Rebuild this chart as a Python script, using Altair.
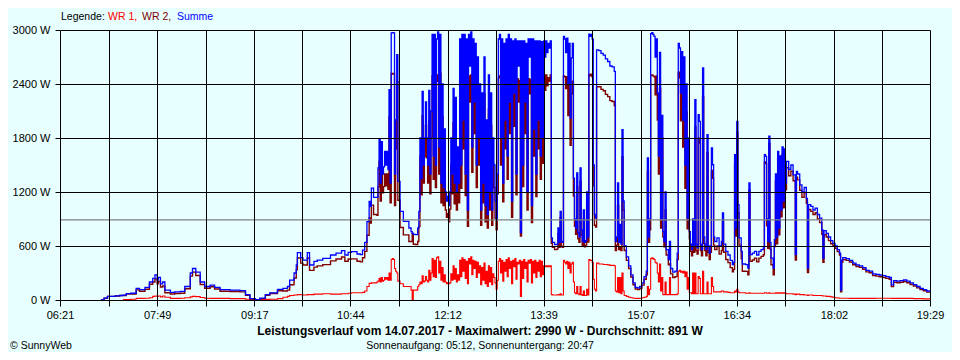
import altair as alt
import pandas as pd

# ---------------- data (minutes since midnight) ----------------
minuten = [
    418, 421, 424, 431, 435, 438, 441, 445, 450, 453,
    458, 462, 465, 467, 469, 470, 472, 474, 476, 481,
    485, 490, 494, 499, 501, 504, 508, 512, 517, 521,
    526, 535, 544, 549, 553, 558, 562, 567, 571, 578,
    583, 587, 589, 593, 595, 596, 599, 601, 605, 607,
    611, 614, 619, 626, 631, 636, 639, 642, 645, 650,
    653, 655, 657, 659, 661, 662, 663, 665, 668, 669,
    670, 671, 672, 673, 674, 675, 676, 677, 678, 679,
    680, 681, 682, 683, 684, 685, 686, 687, 689, 692,
    697, 699, 700, 701, 703, 705, 706, 707, 708, 709,
    710, 711, 712, 713, 714, 715, 716, 717, 718, 719,
    720, 721, 722, 723, 724, 725, 726, 727, 728, 729,
    730, 731, 732, 733, 734, 735, 736, 737, 738, 739,
    740, 741, 742, 743, 744, 745, 746, 747, 748, 749,
    750, 751, 752, 753, 754, 755, 756, 757, 758, 759,
    760, 761, 762, 763, 764, 765, 766, 767, 768, 769,
    770, 771, 772, 773, 774, 775, 776, 777, 778, 779,
    780, 781, 782, 783, 784, 785, 786, 787, 788, 789,
    790, 791, 792, 793, 794, 795, 796, 797, 798, 799,
    800, 801, 802, 803, 804, 805, 806, 807, 808, 809,
    810, 811, 812, 813, 814, 815, 816, 817, 818, 819,
    820, 821, 822, 823, 824, 825, 826, 827, 829, 831,
    832, 833, 834, 835, 836, 837, 838, 839, 840, 841,
    842, 843, 844, 845, 846, 847, 848, 849, 850, 851,
    852, 853, 854, 855, 856, 857, 858, 859, 860, 861,
    862, 863, 864, 865, 866, 867, 869, 871, 873, 875,
    877, 879, 881, 883, 884, 885, 886, 887, 888, 889,
    890, 891, 892, 894, 896, 898, 900, 902, 904, 906,
    908, 910, 912, 913, 914, 915, 916, 917, 918, 919,
    920, 921, 922, 923, 924, 925, 926, 927, 928, 929,
    930, 932, 933, 934, 936, 938, 940, 941, 942, 943,
    944, 945, 946, 947, 948, 949, 950, 951, 952, 953,
    954, 955, 956, 957, 958, 959, 960, 961, 962, 963,
    964, 965, 966, 967, 968, 969, 970, 971, 972, 973,
    974, 976, 978, 980, 981, 982, 984, 986, 988, 990,
    991, 992, 993, 994, 995, 996, 998, 999, 1002, 1004,
    1005, 1006, 1008, 1010, 1012, 1014, 1016, 1018, 1019, 1020,
    1021, 1022, 1023, 1024, 1025, 1027, 1028, 1029, 1030, 1031,
    1032, 1033, 1034, 1035, 1036, 1037, 1038, 1039, 1041, 1043,
    1045, 1047, 1048, 1049, 1051, 1053, 1055, 1057, 1058, 1059,
    1061, 1063, 1065, 1067, 1069, 1071, 1072, 1073, 1075, 1077,
    1079, 1081, 1083, 1085, 1087, 1088, 1089, 1090, 1093, 1096,
    1099, 1102, 1105, 1108, 1111, 1114, 1117, 1120, 1123, 1126,
    1129, 1132, 1134, 1136, 1139, 1142, 1145, 1148, 1151, 1154,
    1157, 1160, 1163, 1166, 1169,
]

wr1 = [
    None, None, None, None, None, 5, 5, 8, 18, 18,
    20, 25, 40, 45, 40, 45, 35, 45, 30, 18,
    18, 20, 25, 35, 40, 38, 28, 20, 18, 18,
    18, 15, 15, 8, 5, 3, 5, 7, 8, 15,
    30, 40, 50, 55, 55, 60, 60, 55, 60, 60,
    65, 65, 70, 65, 65, 70, 70, 75, 80, 80,
    80, 85, 100, 150, 185, 185, 190, 190, 200, 210,
    240, 200, 250, 210, 220, 250, 230, 250, 220, 300,
    220, 450, 460, 450, 350, 320, 300, 210, 180, 150,
    150, 110, 0, 110, 110, 150, 170, 200, 180, 270,
    200, 210, 260, 220, 200, 330, 220, 300, 460, 260,
    440, 250, 470, 480, 300, 430, 220, 360, 200, 280,
    200, 180, 190, 180, 190, 290, 220, 380, 230, 350,
    200, 280, 220, 440, 260, 470, 320, 450, 240, 430,
    180, 460, 400, 480, 280, 440, 350, 430, 250, 420,
    300, 380, 170, 360, 220, 410, 180, 320, 150, 380,
    200, 360, 170, 290, 250, 190, 120, 220, 430, 460,
    300, 440, 210, 420, 320, 450, 260, 470, 350, 430,
    180, 440, 370, 460, 230, 420, 400, 440, 40, 430,
    240, 450, 350, 420, 200, 440, 410, 450, 190, 430,
    300, 440, 250, 420, 320, 440, 260, 430, 280, 380,
    370, 380, 370, 380, 370, 380, 60, 55, 55, 55,
    60, 55, 70, 55, 55, 440, 420, 400, 430, 350,
    420, 300, 400, 420, 200, 80, 70, 150, 70, 60,
    150, 60, 50, 100, 50, 50, 120, 55, 450, 440,
    440, 420, 230, 120, 100, 410, 400, 400, 395, 395,
    390, 385, 385, 380, 100, 90, 250, 80, 250, 70,
    300, 100, 50, 40, 30, 25, 20, 18, 18, 20,
    25, 30, 40, 150, 60, 120, 460, 470, 460, 450,
    420, 410, 300, 200, 400, 100, 250, 60, 60, 200,
    60, 60, 250, 60, 60, 60, 70, 320, 330, 310,
    320, 300, 320, 260, 310, 120, 250, 80, 80, 70,
    300, 70, 300, 70, 70, 260, 240, 70, 70, 320,
    70, 70, 70, 200, 70, 70, 70, 250, 150, 90,
    90, 90, 90, 100, 100, 90, 90, 85, 80, 80,
    80, 100, 90, 120, 90, 80, 80, 80, 75, 75,
    80, 75, 75, 75, 75, 75, 75, 75, 80, 80,
    75, 75, 80, 75, 75, 75, 75, 80, 75, 80,
    75, 80, 75, 80, 75, 80, 75, 70, 70, 70,
    65, 60, 65, 65, 60, 60, 55, 55, 50, 55,
    55, 50, 50, 50, 50, 48, 45, 45, 40, 40,
    35, 30, 25, 22, 20, 20, 20, 20, 20, 18,
    18, 18, 18, 18, 18, 18, 18, 20, 20, 20,
    20, 20, 18, 18, 18, 18, 18, 18, 18, 15,
    15, 15, 12, 12, 10,
]

wr2 = [
    0, 20, 40, 45, 50, 50, 65, 67, 112, 97,
    120, 175, 200, 235, 180, 205, 145, 155, 80, 67,
    72, 75, 125, 265, 310, 272, 172, 130, 147, 122,
    97, 95, 90, 52, 10, 2, 15, 53, 72, 103,
    100, 110, 170, 245, 335, 466, 410, 389, 466, 329,
    365, 379, 393, 435, 455, 478, 430, 455, 457, 431,
    424, 470, 540, 720, 911, 855, 1054, 950, 940, 1257,
    1541, 1100, 1510, 1190, 1260, 1400, 1270, 1400, 1230, 2037,
    1080, 2517, 2510, 2517, 1050, 1680, 2426, 1109, 805, 724,
    650, 650, 740, 620, 616, 650, 815, 1600, 1170, 2048,
    1300, 1590, 1940, 1580, 1300, 2000, 1180, 1800, 2490, 1340,
    2510, 1250, 2430, 2500, 1400, 2520, 1080, 2040, 1050, 1620,
    1000, 920, 960, 870, 1010, 1510, 1180, 1970, 1070, 1900,
    1000, 1420, 1080, 2460, 1240, 2480, 1680, 2500, 1160, 2470,
    820, 2490, 2200, 2500, 1420, 2460, 1850, 2420, 1250, 2280,
    1500, 2020, 830, 1940, 1080, 2290, 870, 1680, 800, 2120,
    1000, 1940, 830, 1510, 1250, 910, 780, 1180, 2470, 2490,
    1500, 2460, 1090, 2430, 1680, 2450, 1340, 2480, 1850, 2470,
    920, 2440, 1930, 2440, 1170, 2460, 2200, 2440, 710, 2450,
    1260, 2430, 1850, 2430, 1000, 2460, 2290, 2450, 860, 2470,
    1600, 2440, 1150, 2460, 1680, 2440, 1340, 2440, 1520, 2500,
    2330, 2500, 2380, 2470, 2430, 2500, 630, 585, 560, 565,
    740, 585, 915, 595, 585, 2490, 2480, 2350, 2480, 2050,
    2430, 1720, 2290, 2430, 1155, 820, 730, 1261, 680, 640,
    1317, 720, 600, 900, 590, 610, 1080, 645, 2505, 2490,
    2510, 2480, 1270, 830, 810, 2370, 2370, 2340, 2325, 2285,
    2260, 2215, 2205, 2160, 550, 610, 1050, 560, 590, 550,
    1593, 1000, 550, 440, 350, 255, 170, 122, 117, 130,
    165, 230, 280, 1428, 640, 780, 2500, 2500, 2490, 2480,
    2280, 2490, 2000, 1400, 2350, 800, 1800, 700, 590, 1000,
    500, 390, 400, 290, 250, 260, 450, 2530, 2470, 1990,
    2440, 1700, 2380, 1240, 2090, 790, 1550, 680, 540, 490,
    600, 530, 1926, 550, 510, 1800, 1745, 550, 490, 2260,
    630, 550, 490, 1637, 530, 450, 530, 1440, 1353, 610,
    560, 600, 510, 550, 867, 530, 450, 415, 360, 313,
    340, 1515, 710, 1865, 970, 610, 460, 320, 318, 280,
    1220, 429, 445, 465, 425, 465, 485, 503, 1535, 1516,
    825, 575, 1740, 565, 391, 280, 595, 1320, 625, 1570,
    725, 1520, 925, 1620, 1025, 1600, 1225, 1470, 1380, 1430,
    1325, 444, 1365, 1335, 1220, 1140, 1195, 1075, 305, 1005,
    985, 950, 970, 900, 860, 730, 418, 725, 700, 660,
    625, 600, 575, 538, 500, 91, 420, 450, 440, 422,
    392, 372, 362, 342, 312, 302, 272, 265, 258, 250,
    240, 230, 149, 197, 192, 197, 204, 192, 172, 155,
    135, 115, 103, 88, 85,
]

summe = [
    0, 20, 40, 45, 50, 55, 70, 75, 130, 115,
    140, 200, 240, 280, 220, 250, 180, 200, 110, 85,
    90, 95, 150, 300, 350, 310, 200, 150, 165, 140,
    115, 110, 105, 60, 15, 5, 20, 60, 80, 118,
    130, 150, 220, 300, 390, 526, 470, 444, 526, 389,
    430, 444, 463, 500, 520, 548, 500, 530, 537, 511,
    504, 555, 640, 870, 1096, 1040, 1244, 1140, 1140, 1467,
    1781, 1300, 1760, 1400, 1480, 1650, 1500, 1650, 1450, 2337,
    1300, 2967, 2970, 2967, 1400, 2000, 2726, 1319, 985, 874,
    800, 760, 740, 730, 726, 800, 985, 1800, 1350, 2318,
    1500, 1800, 2200, 1800, 1500, 2330, 1400, 2100, 2950, 1600,
    2950, 1500, 2900, 2980, 1700, 2950, 1300, 2400, 1250, 1900,
    1200, 1100, 1150, 1050, 1200, 1800, 1400, 2350, 1300, 2250,
    1200, 1700, 1300, 2900, 1500, 2950, 2000, 2950, 1400, 2900,
    1000, 2950, 2600, 2980, 1700, 2900, 2200, 2850, 1500, 2700,
    1800, 2400, 1000, 2300, 1300, 2700, 1050, 2000, 950, 2500,
    1200, 2300, 1000, 1800, 1500, 1100, 900, 1400, 2900, 2950,
    1800, 2900, 1300, 2850, 2000, 2900, 1600, 2950, 2200, 2900,
    1100, 2880, 2300, 2900, 1400, 2880, 2600, 2880, 750, 2880,
    1500, 2880, 2200, 2850, 1200, 2900, 2700, 2900, 1050, 2900,
    1900, 2880, 1400, 2880, 2000, 2880, 1600, 2870, 1800, 2880,
    2700, 2880, 2750, 2850, 2800, 2880, 690, 640, 615, 620,
    800, 640, 985, 650, 640, 2930, 2900, 2750, 2910, 2400,
    2850, 2020, 2690, 2850, 1355, 900, 800, 1411, 750, 700,
    1467, 780, 650, 1000, 640, 660, 1200, 700, 2955, 2930,
    2950, 2900, 1500, 950, 910, 2780, 2770, 2740, 2720, 2680,
    2650, 2600, 2590, 2540, 650, 700, 1300, 640, 840, 620,
    1893, 1100, 600, 480, 380, 280, 190, 140, 135, 150,
    190, 260, 320, 1578, 700, 900, 2960, 2970, 2950, 2930,
    2700, 2900, 2300, 1600, 2750, 900, 2050, 760, 650, 1200,
    560, 450, 650, 350, 310, 320, 520, 2850, 2800, 2300,
    2760, 2000, 2700, 1500, 2400, 910, 1800, 760, 620, 560,
    900, 600, 2226, 620, 580, 2060, 1985, 620, 560, 2580,
    700, 620, 560, 1837, 600, 520, 600, 1690, 1503, 700,
    650, 690, 600, 650, 967, 620, 540, 500, 440, 393,
    420, 1615, 800, 1985, 1060, 690, 540, 400, 393, 355,
    1300, 504, 520, 540, 500, 540, 560, 578, 1615, 1596,
    900, 650, 1820, 640, 466, 355, 670, 1400, 700, 1650,
    800, 1600, 1000, 1700, 1100, 1680, 1300, 1540, 1450, 1500,
    1390, 504, 1430, 1400, 1280, 1200, 1250, 1130, 355, 1060,
    1040, 1000, 1020, 950, 910, 778, 463, 770, 740, 700,
    660, 630, 600, 560, 520, 111, 440, 470, 460, 440,
    410, 390, 380, 360, 330, 320, 290, 285, 278, 270,
    260, 250, 167, 215, 210, 215, 222, 210, 190, 170,
    150, 130, 115, 100, 95,
]

achse_minuten = [381, 425, 469, 513, 557, 600.5, 644, 688, 732, 775.5,
                 819, 863, 907, 950.5, 994, 1038, 1082, 1125.5, 1169]
achse_labels = ["06:21", "", "07:49", "", "09:17", "", "10:44", "", "12:12", "",
                "13:39", "", "15:07", "", "16:34", "", "18:02", "", "19:29"]
y_werte = [0, 600, 1200, 1800, 2400, 3000]
durchschnitt = 891
serien = ["WR 1", "WR 2", "Summe"]
farben = ["#FF0000", "#800000", "#0000FF"]
legende_text = ["Legende:", "WR 1,", "WR 2,", "Summe"]
legende_farben = ["#000000", "#FF0000", "#800000", "#0000FF"]
titel = "Leistungsverlauf vom 14.07.2017 - Maximalwert: 2990 W - Durchschnitt: 891 W"
untertitel = "Sonnenaufgang: 05:12, Sonnenuntergang: 20:47"
copyright_text = "\u00a9 SunnyWeb"

# ---------------- build ----------------
df = pd.DataFrame({"Minute": minuten, "WR 1": wr1, "WR 2": wr2, "Summe": summe})
long = df.melt("Minute", var_name="Serie", value_name="Leistung")

FONT = "Liberation Sans"
label_expr_x = "[" + ",".join("'%s'" % l for l in achse_labels) + "][indexof([" + \
    ",".join(str(v) for v in achse_minuten) + "], datum.value)]"

x_enc = alt.X("Minute:Q",
              scale=alt.Scale(domain=[achse_minuten[0], achse_minuten[-1]], nice=False, zero=False),
              axis=alt.Axis(values=achse_minuten, labelExpr=label_expr_x, title=None,
                            grid=True, gridColor="#000000", gridOpacity=1, gridWidth=1,
                            domain=False, ticks=True, tickColor="#000000", tickSize=6, tickWidth=1,
                            labelFont=FONT, labelFontSize=11, labelColor="#000000",
                            labelPadding=3, labelFlush=False, labelOverlap=False, zindex=1))
y_enc = alt.Y("Leistung:Q",
              scale=alt.Scale(domain=[y_werte[0], y_werte[-1]], nice=False),
              axis=alt.Axis(values=y_werte, labelExpr="datum.value + ' W'", title=None,
                            grid=True, gridColor="#000000", gridOpacity=1, gridWidth=1,
                            domain=False, ticks=True, tickColor="#000000", tickSize=5, tickWidth=1,
                            labelFont=FONT, labelFontSize=11, labelColor="#000000",
                            labelPadding=5, labelFlush=False, labelOverlap=False, zindex=1))
color_enc = alt.Color("Serie:N", scale=alt.Scale(domain=serien, range=farben), legend=None)

widths = {"WR 1": 1.1, "WR 2": 1.4, "Summe": 1.3}
layers = []
for s in serien:
    layers.append(
        alt.Chart(long[long["Serie"] == s])
        .mark_line(interpolate="step-after", strokeWidth=widths[s])
        .encode(x=x_enc, y=y_enc, color=color_enc)
    )

avg = alt.Chart(pd.DataFrame({"Leistung": [durchschnitt]})).mark_rule(
    color="#808080", strokeWidth=1.2).encode(y=alt.Y("Leistung:Q"))

def txt(value, x, y, color="#000000", size=11, weight="normal", align="left"):
    return alt.Chart(pd.DataFrame({"t": [value]})).mark_text(
        align=align, baseline="alphabetic", font=FONT, fontSize=size,
        fontWeight=weight, color=color
    ).encode(text="t:N", x=alt.value(x), y=alt.value(y))

leg_x = [1, 48, 82, 117]
texts = [txt(legende_text[i], leg_x[i], -10, legende_farben[i], size=10.5) for i in range(4)]
texts.append(txt(titel, 420, 305, size=12, weight="bold", align="center"))
texts.append(txt(untertitel, 420, 318.5, size=10.5, align="center"))
texts.append(txt(copyright_text, -50, 318.5, size=10.5))

chart = alt.layer(*layers, avg, *texts).properties(
    width=870, height=270,
    padding={"left": 52, "top": 22, "right": 22, "bottom": 52},
    autosize=alt.AutoSizeParams(type="none"),
).configure(background="#E8FFFF").configure_view(stroke=None)

chart.save("out.html", embed_options={"renderer": "svg", "actions": False})
